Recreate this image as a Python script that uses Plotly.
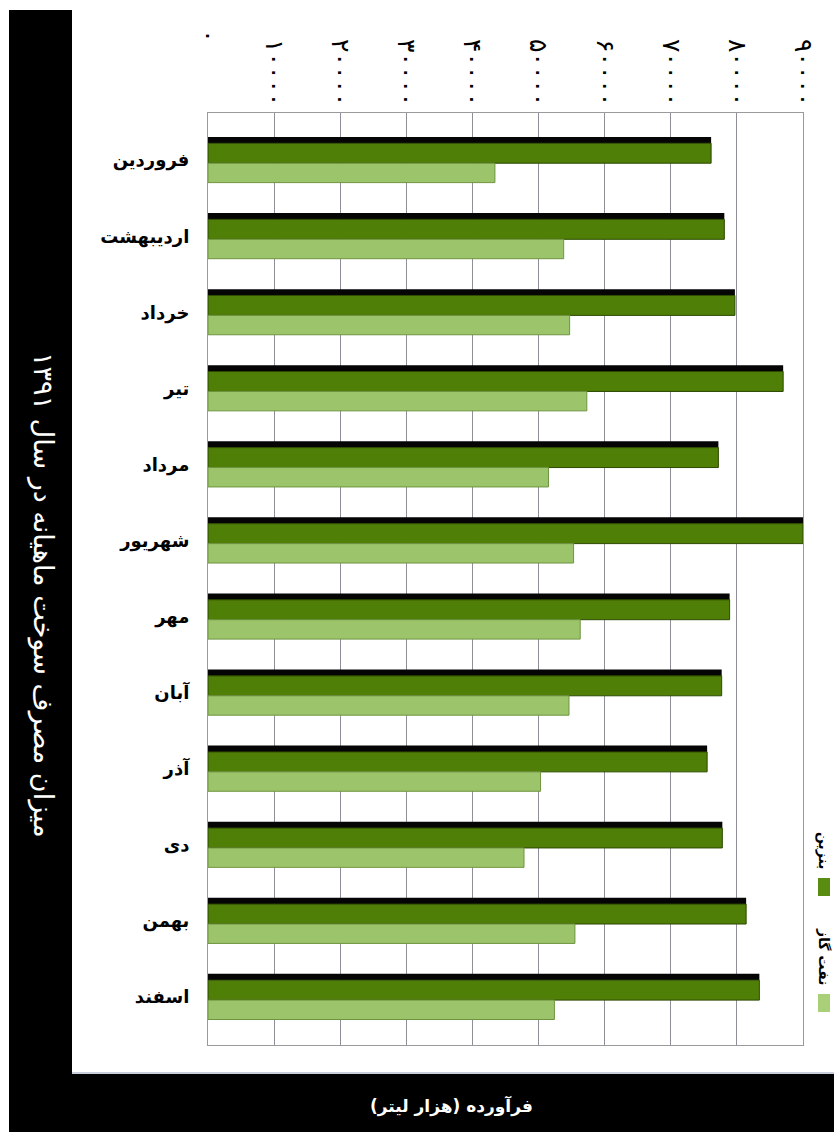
import plotly.graph_objects as go

# ---- data ----
months = ["فروردین", "اردیبهشت", "خرداد", "تیر", "مرداد", "شهریور",
          "مهر", "آبان", "آذر", "دی", "بهمن", "اسفند"]
benzin = [76100, 78100, 79700, 87000, 77200, 90000, 78900, 77700, 75500, 77800, 81400, 83400]
naftgaz = [43400, 53800, 54700, 57300, 51500, 55300, 56300, 54600, 50300, 47800, 55500, 52400]
series_names = ["بنزین", "نفت گاز"]
tick_vals = [0, 10000, 20000, 30000, 40000, 50000, 60000, 70000, 80000, 90000]
tick_text = ["۰\u2007\u2007\u2007\u2007", "۱۰۰۰۰", "۲۰۰۰۰", "۳۰۰۰۰", "۴۰۰۰۰",
             "۵۰۰۰۰", "۶۰۰۰۰", "۷۰۰۰۰", "۸۰۰۰۰", "۹۰۰۰۰"]
title_text = "میزان مصرف سوخت ماهیانه در سال ۱۳۹۱"
xaxis_title = "فرآورده (هزار لیتر)"

W, H = 834, 1132
L, R, T, B = 208, 31, 113, 87
PW, PH = W - L - R, H - T - B

def px(x):
    return (x - L) / PW

def py(y):
    return (H - B - y) / PH

DARK = "#4f7f06"
LIGHT = "#9cc46a"
FONT = "DejaVu Sans"

fig = go.Figure()
# 3D top face of the front series
fig.add_trace(go.Bar(y=months, x=benzin, orientation="h", showlegend=False,
                     marker=dict(color="#050505", line=dict(width=0)),
                     offset=-0.305, width=0.085, hoverinfo="skip"))
fig.add_trace(go.Bar(y=months, x=benzin, orientation="h", name=series_names[0],
                     marker=dict(color=DARK, line=dict(color="#2d4a00", width=1)),
                     offset=-0.222, width=0.262, showlegend=False))
fig.add_trace(go.Bar(y=months, x=naftgaz, orientation="h", name=series_names[1],
                     marker=dict(color=LIGHT, line=dict(color="#6f9440", width=1)),
                     offset=0.040, width=0.255, showlegend=False))

shapes = [
    # left black title panel
    dict(type="rect", xref="paper", yref="paper", x0=px(9), x1=px(72), y0=py(1075), y1=py(10),
         fillcolor="black", line=dict(width=0), layer="above"),
    # bottom black bar
    dict(type="rect", xref="paper", yref="paper", x0=px(9), x1=px(834), y0=py(1132), y1=py(1074),
         fillcolor="black", line=dict(width=0), layer="above"),
    dict(type="line", xref="paper", yref="paper", x0=px(72), x1=px(834), y0=py(1073), y1=py(1073),
         line=dict(color="#b8bcd0", width=1.5)),
    # legend squares
    dict(type="rect", xref="paper", yref="paper", x0=px(818), x1=px(830), y0=py(896), y1=py(878),
         fillcolor="#5a8c12", line=dict(width=0)),
    dict(type="rect", xref="paper", yref="paper", x0=px(818), x1=px(830), y0=py(1012), y1=py(994),
         fillcolor="#a9cf78", line=dict(width=0)),
]

def ann(text, x, y, size, color, angle=0):
    return dict(text=text, xref="paper", yref="paper", x=px(x), y=py(y), showarrow=False,
                xanchor="center", yanchor="middle", textangle=angle,
                font=dict(family=FONT, size=size, color=color))

annotations = [
    ann(title_text, 43, 595, 27, "white", 90),
    ann("<b>" + xaxis_title + "</b>", 451, 1106, 17, "white"),
    ann("<b>" + series_names[0] + "</b>", 824, 851, 14, "black", 90),
    ann("<b>" + series_names[1] + "</b>", 824, 957, 14, "black", 90),
]

fig.update_layout(
    width=W, height=H,
    margin=dict(l=L, r=R, t=T, b=B, pad=0),
    paper_bgcolor="white", plot_bgcolor="white",
    barmode="overlay",
    showlegend=False,
    shapes=shapes,
    annotations=annotations,
    font=dict(family=FONT, color="black"),
    xaxis=dict(side="top", range=[0, 90000], tickvals=tick_vals, ticktext=tick_text,
               tickangle=90, showgrid=True, gridcolor="#8f8f9a", gridwidth=1,
               zeroline=False, showline=True, linecolor="#9a9a9a", mirror=True,
               ticks="outside", ticklen=5, tickcolor="rgba(0,0,0,0)",
               ticklabelstandoff=-8,
               tickfont=dict(family=FONT, size=25, color="black")),
    yaxis=dict(type="category", categoryorder="array", categoryarray=months,
               range=[11.63, -0.62], showgrid=False, zeroline=False,
               showline=True, linecolor="#9a9a9a", mirror=True,
               ticks="outside", ticklen=14, tickcolor="rgba(0,0,0,0)",
               tickfont=dict(family=FONT, size=18, color="black")),
)

fig.update_yaxes(tickprefix="<b>", ticksuffix="</b>")
fig.update_xaxes(tickprefix="<b>", ticksuffix="</b>")

fig.write_html("out.html", config={"displayModeBar": False},
               post_script="document.body.style.margin='0';document.body.style.overflow='hidden';")
